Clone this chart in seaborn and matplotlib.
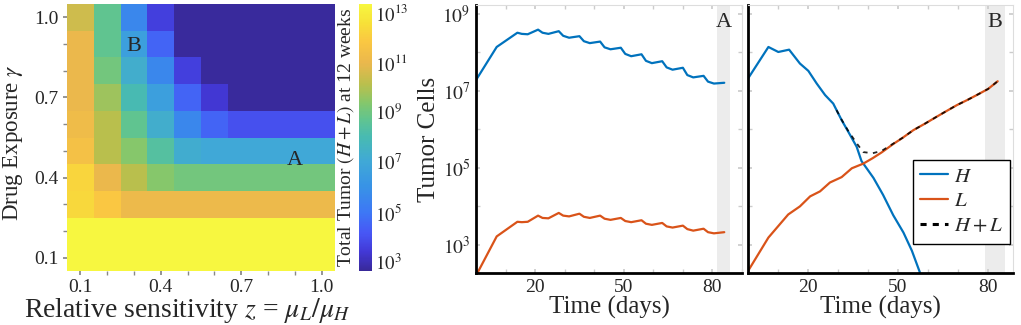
import numpy as np
import pandas as pd
import matplotlib
matplotlib.use("Agg")
import matplotlib.pyplot as plt
import seaborn as sns
from matplotlib.colors import LinearSegmentedColormap
from matplotlib.lines import Line2D
from matplotlib.ticker import FixedLocator, MultipleLocator, NullFormatter

# ---- heatmap data: log10 total tumour (H + L) at 12 weeks ----
z_labels = ["0.1", "0.2", "0.3", "0.4", "0.5", "0.6", "0.7", "0.8", "0.9", "1.0"]
gamma_labels = ["1.0", "0.9", "0.8", "0.7", "0.6", "0.5", "0.4", "0.3", "0.2", "0.1"]
log_tumor = [
    [10.45, 8.7, 5.6, 3.6, 2.7, 2.7, 2.7, 2.7, 2.7, 2.7],
    [11.0, 8.7, 6.6, 4.5, 2.7, 2.7, 2.7, 2.7, 2.7, 2.7],
    [11.0, 9.05, 7.3, 5.6, 3.6, 2.7, 2.7, 2.7, 2.7, 2.7],
    [11.0, 9.7, 8.0, 6.6, 4.5, 3.4, 2.7, 2.7, 2.7, 2.7],
    [11.2, 10.1, 8.7, 7.3, 5.6, 4.5, 4.0, 4.0, 4.0, 4.0],
    [11.5, 10.1, 9.4, 8.4, 7.2, 7.0, 7.0, 7.0, 7.0, 7.0],
    [12.2, 11.0, 10.1, 9.4, 9.05, 9.05, 9.05, 9.05, 9.05, 9.05],
    [12.3, 11.8, 11.1, 11.1, 11.1, 11.1, 11.1, 11.1, 11.1, 11.1],
    [13.3, 13.3, 13.3, 13.3, 13.3, 13.3, 13.3, 13.3, 13.3, 13.3],
    [13.3, 13.3, 13.3, 13.3, 13.3, 13.3, 13.3, 13.3, 13.3, 13.3],
]
cbar_ticks = [3, 5, 7, 9, 11, 13]
cbar_range = (2.65, 13.32)

# ---- trajectory A (log10 cells) ----
a_days = [0, 7, 14, 15.5, 17.5, 21, 22.5, 24.5, 28, 29.5, 31.5, 35, 36.5, 38.5, 42,
          43.5, 45.5, 49, 50.5, 52.5, 56, 57.5, 59.5, 63, 64.5, 66.5, 70, 71.5, 73.5,
          77, 78.5, 80.5, 84]
a_H = [7.28, 8.14, 8.51, 8.48, 8.47, 8.59, 8.51, 8.48, 8.55, 8.43, 8.38, 8.42, 8.29,
       8.24, 8.28, 8.13, 8.08, 8.12, 7.96, 7.90, 7.95, 7.78, 7.72, 7.77, 7.61, 7.55,
       7.60, 7.41, 7.35, 7.39, 7.24, 7.19, 7.21]
a_L = [2.20, 3.22, 3.60, 3.59, 3.60, 3.76, 3.70, 3.69, 3.83, 3.76, 3.74, 3.81, 3.73,
       3.70, 3.76, 3.68, 3.65, 3.70, 3.62, 3.59, 3.64, 3.55, 3.52, 3.57, 3.48, 3.45,
       3.50, 3.41, 3.37, 3.42, 3.33, 3.30, 3.33]

# ---- trajectory B (log10 cells) ----
b_days_H = [0, 6.8, 10.1, 13.7, 17.3, 20.1, 22.9, 25.7, 28.4, 31.2, 33.4, 36.2, 37.8,
            41.8, 45, 48.4, 51.8, 54.6, 57.3, 58.5]
b_H = [7.32, 8.14, 8.01, 8.07, 7.71, 7.52, 7.19, 6.89, 6.67, 6.24, 5.94, 5.55, 5.18,
       4.74, 4.30, 3.77, 3.32, 2.85, 2.28, 2.00]
b_days_L = [0, 6.8, 13.4, 17.3, 20.7, 24, 27.3, 31.2, 34.6, 38.4, 41.5, 44.5, 48.4,
            51.5, 55.1, 59, 62.9, 66, 69.6, 73, 76.2, 80, 83.2]
b_L = [2.32, 3.19, 3.79, 4.00, 4.26, 4.39, 4.62, 4.76, 4.99, 5.11, 5.25, 5.40, 5.62,
       5.78, 5.98, 6.15, 6.33, 6.47, 6.63, 6.76, 6.89, 7.05, 7.25]
b_days_sum = [29.5, 31.2, 33.4, 36.2, 38.4, 41.5, 44.5, 48.4, 51.5, 55.1, 59, 62.9,
              66, 69.6, 73, 76.2, 80, 83.2]
b_sum = [6.50, 6.25, 5.96, 5.64, 5.41, 5.38, 5.44, 5.63, 5.78, 5.98, 6.15, 6.33, 6.47,
         6.63, 6.76, 6.89, 7.05, 7.25]

# parula-like colour scale as it appears in the figure
cmap_pos = [0.0, 0.07, 0.14, 0.22, 0.32, 0.41, 0.50, 0.57, 0.63, 0.70, 0.78, 0.86, 0.93, 1.0]
cmap_rgb = [(0.22, 0.16, 0.60), (0.26, 0.22, 0.84), (0.28, 0.34, 0.96), (0.24, 0.47, 0.96),
            (0.22, 0.58, 0.90), (0.25, 0.66, 0.84), (0.28, 0.73, 0.70), (0.38, 0.77, 0.56),
            (0.52, 0.78, 0.42), (0.73, 0.75, 0.30), (0.92, 0.72, 0.30), (0.98, 0.78, 0.26),
            (0.97, 0.88, 0.22), (0.97, 0.97, 0.25)]
parula = LinearSegmentedColormap.from_list("parula", list(zip(cmap_pos, cmap_rgb)))

blue = "#0072BD"
orange = "#D95319"

sns.set_theme(style="white")
plt.rcParams["font.family"] = ["Liberation Serif", "DejaVu Serif"]
plt.rcParams["mathtext.fontset"] = "stix"

fig = plt.figure(figsize=(10.21, 3.25), dpi=100)
W, H = 1021, 325


def box(x0, y0, x1, y1):
    return [x0 / W, 1 - y1 / H, (x1 - x0) / W, (y1 - y0) / H]


ax_h = fig.add_axes(box(67, 4, 335, 271))
cax = fig.add_axes(box(359, 4, 372, 271))
ax_a = fig.add_axes(box(476, 5, 742, 273))
ax_b = fig.add_axes(box(748, 5, 1013, 273))

# ---- heatmap ----
df = pd.DataFrame(log_tumor, index=gamma_labels, columns=z_labels)
sns.heatmap(df, ax=ax_h, cmap=parula, vmin=cbar_range[0], vmax=cbar_range[1], cbar_ax=cax,
            cbar_kws={"ticks": cbar_ticks}, xticklabels=False, yticklabels=False)
ax_h.set_xticks([0.5, 3.5, 6.5, 9.5])
ax_h.set_xticklabels(["0.1", "0.4", "0.7", "1.0"], rotation=0)
ax_h.set_xticks(np.arange(10) + 0.5, minor=True)
ax_h.set_yticks([0.5, 3.5, 6.5, 9.5])
ax_h.set_yticklabels(["1.0", "0.7", "0.4", "0.1"], rotation=0)
ax_h.set_yticks(np.arange(10) + 0.5, minor=True)
ax_h.tick_params(which="both", length=3, color="#888888", labelsize=14, pad=3,
                 left=True, bottom=True)
ax_h.set_xlabel(r"Relative sensitivity $z$ = $\mu_L/\mu_H$", fontsize=20)
ax_h.xaxis.set_label_coords(0.45, -0.095)
ax_h.set_ylabel(r"Drug Exposure $\gamma$", fontsize=16.5)
ax_h.yaxis.set_label_coords(-0.155, 0.48)
ax_h.text(2.5, 1.6, "B", fontsize=16, ha="center", va="center")
ax_h.text(8.5, 5.85, "A", fontsize=16, ha="center", va="center")

cbar = ax_h.collections[0].colorbar
cbar.outline.set_visible(False)
cbar.set_ticks(cbar_ticks)
cbar.set_ticklabels([f"$10^{{{t}}}$" for t in cbar_ticks])
cax.tick_params(length=0, labelsize=13.5, pad=2)
cax.yaxis.set_label_position("left")
cbar.set_label(r"Total Tumor $(H+L)$ at 12 weeks", fontsize=14, labelpad=2)


# ---- trajectories ----
def style_traj(ax, xmax, band):
    ax.set_yscale("log")
    ax.set_ylim(10 ** 2.27, 10 ** 9.23)
    ax.set_xlim(0, xmax)
    ax.axvspan(band[0], band[1], color="#ececec", zorder=0, lw=0)
    for side in ["left", "bottom"]:
        ax.spines[side].set_color("black")
        ax.spines[side].set_linewidth(2)
    for side in ["top", "right"]:
        ax.spines[side].set_visible(True)
        ax.spines[side].set_color("#dddddd")
        ax.spines[side].set_linewidth(0.8)
    ax.xaxis.set_major_locator(FixedLocator([20, 50, 80]))
    ax.xaxis.set_minor_locator(MultipleLocator(10))
    ax.yaxis.set_major_locator(FixedLocator([1e3, 1e5, 1e7, 1e9]))
    ax.yaxis.set_minor_locator(FixedLocator([1e4, 1e6, 1e8]))
    ax.yaxis.set_minor_formatter(NullFormatter())
    ax.tick_params(which="both", direction="in", color="#cccccc", length=3,
                   top=True, right=True, left=True, bottom=True, labelsize=14, pad=4)
    ax.set_xlabel("Time (days)", fontsize=18, labelpad=0)


def draw(ax, days, logvals, color, **kw):
    sns.lineplot(x=days, y=[10 ** v for v in logvals], ax=ax, color=color,
                 sort=False, estimator=None, **kw)


draw(ax_a, a_days, a_H, blue, lw=1.6)
draw(ax_a, a_days, a_L, orange, lw=1.6)
style_traj(ax_a, 90, (81.5, 86))
ax_a.set_yticklabels([r"$10^3$", r"$10^5$", r"$10^7$", r"$10^9$"])
ax_a.set_ylabel("Tumor Cells", fontsize=18, labelpad=2)
ax_a.text(0.93, 0.935, "A", transform=ax_a.transAxes, fontsize=16, ha="center", va="center")

draw(ax_b, b_days_H, b_H, blue, lw=1.6)
draw(ax_b, b_days_L, b_L, orange, lw=1.6)
draw(ax_b, b_days_sum, b_sum, "black", lw=1.3, linestyle=(0, (2.5, 3)), alpha=0.85)
style_traj(ax_b, 88.3, (79, 85.7))
ax_b.set_yticklabels([])
ax_b.set_ylabel("")
ax_b.text(0.932, 0.935, "B", transform=ax_b.transAxes, fontsize=16, ha="center", va="center")

handles = [Line2D([], [], color=blue, lw=1.6),
           Line2D([], [], color=orange, lw=1.6),
           Line2D([], [], color="black", lw=2.2, linestyle=(0, (2, 2)))]
leg = ax_b.legend(handles, ["$H$", "$L$", "$H + L$"], loc="lower right",
                  bbox_to_anchor=(0.99, 0.11), borderaxespad=0, fontsize=15,
                  handlelength=1.3, handletextpad=0.3, labelspacing=0.25,
                  borderpad=0.35, fancybox=False, framealpha=1)
leg.get_frame().set_edgecolor("black")
leg.get_frame().set_linewidth(1.0)

fig.savefig("out.png", dpi=100)
